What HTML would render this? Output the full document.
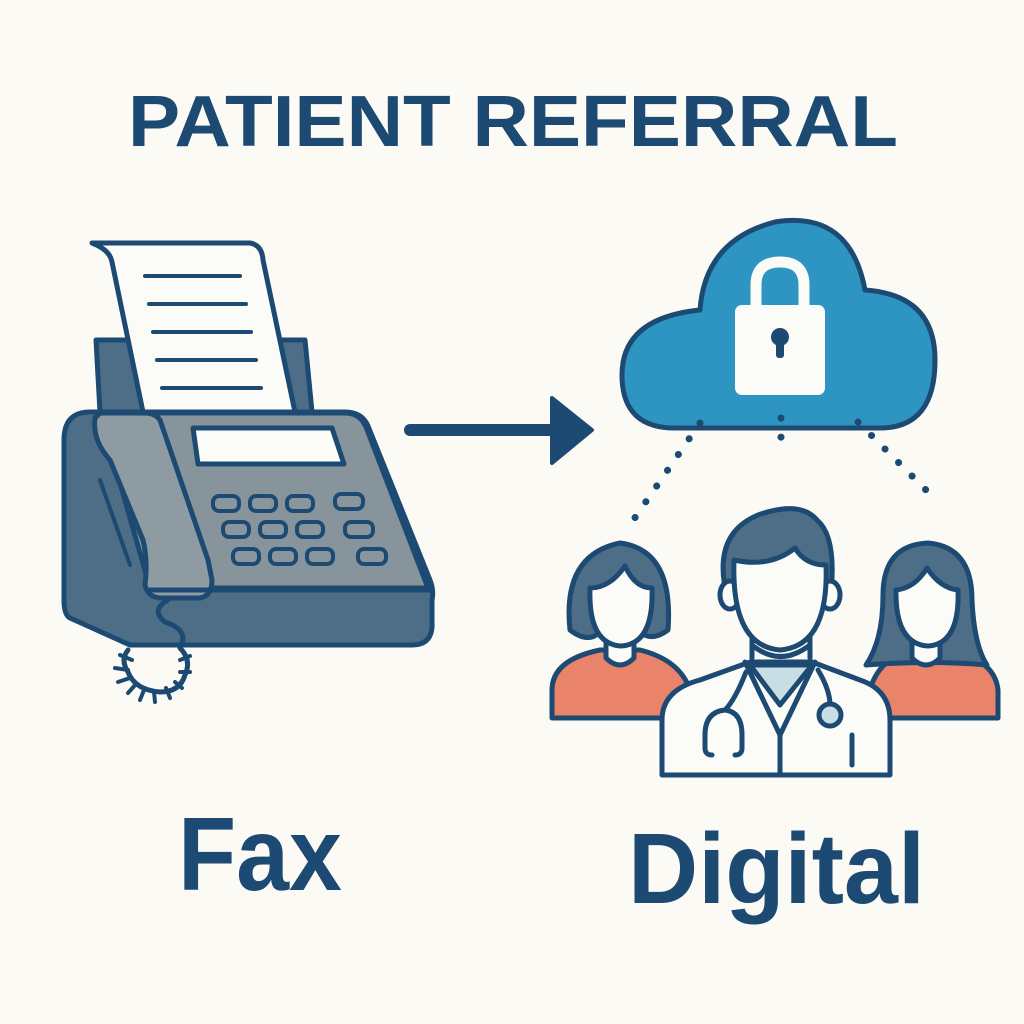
<!DOCTYPE html>
<html><head><meta charset="utf-8"><style>
html,body{margin:0;padding:0;background:#fcfaf4;}
svg{display:block}
text{font-family:"Liberation Sans",sans-serif;font-weight:bold;fill:#1d4a72}
</style></head><body>
<svg width="1024" height="1024" viewBox="0 0 1024 1024" xmlns="http://www.w3.org/2000/svg">
<rect width="1024" height="1024" fill="#fcfaf4"/>
<text x="128" y="146" font-size="72" textLength="770" lengthAdjust="spacingAndGlyphs">PATIENT REFERRAL</text>

<g stroke="#1d4a72" stroke-width="5" stroke-linejoin="round" stroke-linecap="round">
 <path d="M96 340 H305 L312 412 H100 Z" fill="#4e6d86"/>
 <path d="M92 243 H250 Q262 245 263 260 L295 412 H143 L112 262 Q110 250 92 243 Z" fill="#fbfbf8"/>
 <g stroke-width="4">
  <line x1="145" y1="276" x2="240" y2="276"/>
  <line x1="149" y1="304" x2="246" y2="304"/>
  <line x1="153" y1="332" x2="251" y2="332"/>
  <line x1="157" y1="360" x2="256" y2="360"/>
  <line x1="162" y1="388" x2="261" y2="388"/>
 </g>
 <path d="M90 412 H345 Q362 412 368 426 L430 580 Q434 590 432 600 V628 Q430 645 412 645 H130 L70 618 Q64 615 64 600 V440 Q64 412 90 412 Z" fill="#4e6d86"/>
 <path d="M100 413 H345 Q360 413 366 427 L428 588 H150 Z" fill="#87949c"/>
 <path d="M95 418 Q92 440 110 460 L143 540 Q148 560 145 585 Q148 598 162 598 H200 Q212 596 212 580 L208 560 L160 420 Q155 413 145 413 H100 Z" fill="#8f9ba3"/>
 <line x1="100" y1="480" x2="130" y2="565" stroke-width="4"/>
 <line x1="150" y1="590" x2="430" y2="590"/>
 <path d="M193 428 H332 L344 464 H198 Z" fill="#fbfbf8"/>
 <g fill="#8a969e" stroke-width="4">
  <rect x="213" y="496" width="26" height="15" rx="6"/><rect x="250" y="496" width="26" height="15" rx="6"/><rect x="287" y="496" width="26" height="15" rx="6"/><rect x="335" y="494" width="28" height="15" rx="6"/>
  <rect x="223" y="522" width="26" height="15" rx="6"/><rect x="260" y="522" width="26" height="15" rx="6"/><rect x="297" y="522" width="26" height="15" rx="6"/><rect x="345" y="522" width="28" height="15" rx="6"/>
  <rect x="233" y="549" width="26" height="15" rx="6"/><rect x="270" y="549" width="26" height="15" rx="6"/><rect x="307" y="549" width="26" height="15" rx="6"/><rect x="358" y="549" width="28" height="15" rx="6"/>
 </g>
 <path d="M168 600 Q150 610 165 622 Q190 630 180 648 Q192 660 185 675 Q180 692 160 692 Q135 690 128 672 Q120 660 128 650" fill="none" stroke-width="5"/>
 <g stroke-width="4">
  <line x1="120" y1="655" x2="132" y2="660"/><line x1="115" y1="668" x2="128" y2="670"/><line x1="118" y1="682" x2="130" y2="678"/><line x1="128" y1="693" x2="136" y2="684"/><line x1="140" y1="700" x2="144" y2="690"/><line x1="155" y1="702" x2="154" y2="692"/><line x1="170" y1="698" x2="166" y2="688"/><line x1="182" y1="688" x2="175" y2="682"/><line x1="190" y1="672" x2="180" y2="672"/><line x1="190" y1="656" x2="180" y2="660"/>
 </g>
</g>

<line x1="410" y1="430" x2="562" y2="430" stroke="#1d4a72" stroke-width="12" stroke-linecap="round"/>
<path d="M552 398 L592 430 L552 463 Z" fill="#1d4a72" stroke="#1d4a72" stroke-width="4" stroke-linejoin="round"/>

<path d="M675 428 Q622 428 622 375 Q622 318 700 310 Q705 240 775 222 Q850 210 865 290 Q935 295 935 360 Q935 428 880 428 Z" fill="#2e94c2" stroke="#1d4a72" stroke-width="5" stroke-linejoin="round"/>
<path d="M756 310 V285 Q756 262 780 262 Q804 262 804 285 V310" fill="none" stroke="#fbfbf8" stroke-width="11"/>
<rect x="735" y="305" width="90" height="90" rx="7" fill="#fbfbf8"/>
<circle cx="780" cy="337" r="9" fill="#1d4a72"/>
<rect x="776" y="338" width="8" height="20" rx="3" fill="#1d4a72"/>

<g stroke="#1d4a72" stroke-width="7" stroke-linecap="round" stroke-dasharray="0.1 19" fill="none">
 <line x1="700" y1="423" x2="632" y2="522"/>
 <line x1="781" y1="418" x2="781" y2="455"/>
 <line x1="858" y1="422" x2="928" y2="492"/>
</g>

<g stroke="#1d4a72" stroke-width="5" stroke-linejoin="round" stroke-linecap="round">
 <path d="M552 718 V690 Q552 660 600 650 L640 650 Q680 660 690 690 V718 Z" fill="#e9836a"/>
 <path d="M570 630 Q562 555 620 543 Q674 550 668 630 Q652 642 640 632 L600 632 Q588 644 570 630 Z" fill="#4e6d86"/>
 <path d="M606 640 V658 Q620 672 634 658 V640" fill="#fbfbf8"/>
 <path d="M590 588 Q610 588 625 566 Q635 588 652 588 Q654 644 621 646 Q588 644 590 588 Z" fill="#fbfbf8"/>
 <path d="M870 718 V690 Q878 660 910 650 L950 650 Q995 660 998 690 V718 Z" fill="#e9836a"/>
 <path d="M866 665 Q883 640 883 595 Q883 545 928 543 Q972 547 972 600 Q974 645 987 665 Q930 660 866 665 Z" fill="#4e6d86"/>
 <path d="M912 640 V658 Q926 672 940 658 V640" fill="#fbfbf8"/>
 <path d="M896 590 Q915 588 927 568 Q940 588 958 590 Q960 644 928 646 Q895 644 896 590 Z" fill="#fbfbf8"/>
 <path d="M662 775 V720 Q662 690 700 680 L750 662 H812 L860 680 Q890 690 890 720 V775 Z" fill="#fbfbf8"/>
 <path d="M750 665 L780 705 L812 665 Z" fill="#c9dde5"/>
 <path d="M745 662 L780 735 L815 662" fill="none"/>
 <line x1="780" y1="735" x2="780" y2="775"/>
 <line x1="852" y1="735" x2="852" y2="765"/>
 <path d="M752 658 V635 M810 658 V635" />
 <path d="M752 645 Q780 668 810 645" fill="#fbfbf8"/>
 <path d="M746 672 Q735 700 725 710 Q705 712 705 735 V748 Q705 755 712 755 M725 710 Q742 712 742 735 V748 Q742 755 735 755" fill="none"/>
 <path d="M818 670 Q830 690 830 705" fill="none"/>
 <circle cx="830" cy="715" r="11" fill="#c9dde5"/>
 <path d="M728 600 Q710 535 758 515 Q800 500 817 520 Q838 538 830 600 Z" fill="#4e6d86"/>
 <ellipse cx="730" cy="595" rx="10" ry="14" fill="#fbfbf8"/>
 <ellipse cx="830" cy="595" rx="10" ry="14" fill="#fbfbf8"/>
 <path d="M734 560 Q770 568 795 548 Q805 565 826 565 Q829 646 780 650 Q731 646 734 560 Z" fill="#fbfbf8"/>
</g>

<text x="178" y="890" font-size="104" textLength="164" lengthAdjust="spacingAndGlyphs">Fax</text>
<text x="628" y="903" font-size="100" textLength="297" lengthAdjust="spacingAndGlyphs">Digital</text>
</svg>
</body></html>
